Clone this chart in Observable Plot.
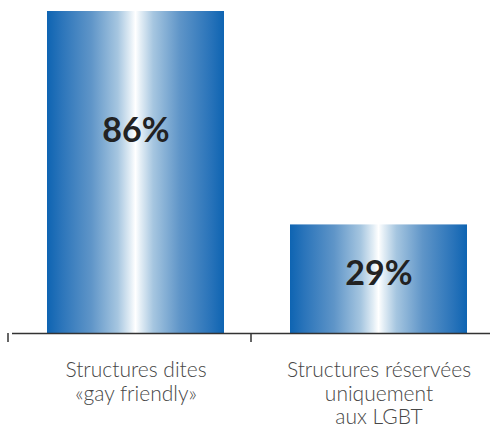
<!DOCTYPE html>
<html>
<head>
<meta charset="utf-8">
<script src="https://cdn.jsdelivr.net/npm/d3@7"></script>
<script src="https://cdn.jsdelivr.net/npm/@observablehq/plot@0.6"></script>
<style>
  html, body { margin: 0; padding: 0; background: #fff; }
  #chart svg { display: block; }
</style>
</head>
<body>
<div id="chart"></div>
<script>
const categories = ["Structures dites\n«gay friendly»", "Structures réservées\nuniquement\naux LGBT"];
const values = [86, 29];
const valueLabels = ["86%", "29%"];

const data = categories.map((c, i) => ({category: c, value: values[i], label: valueLabels[i]}));

const chart = Plot.plot({
  width: 490,
  height: 441,
  marginTop: 11,
  marginBottom: 108,
  marginLeft: 12,
  marginRight: 0,
  style: {background: "#fff", fontFamily: "Lato, sans-serif"},
  x: {domain: categories, range: [46, 468], paddingInner: 0.27, paddingOuter: 0, align: 0.5},
  y: {domain: [0, 86], axis: null},
  marks: [
    Plot.barY(data, {x: "category", y: "value", fill: "url(#barGrad)"}),
    Plot.text(data, {x: "category", y: d => d.value * (d.value > 50 ? 0.63 : 0.55), text: "label", fontSize: 34, fontWeight: "bold", fill: "#222", fontFamily: "Lato, sans-serif"}),
    Plot.ruleY([0], {stroke: "#333", strokeWidth: 1.5}),
    Plot.ruleX(categories, {x: d => d, y1: 0, y2: -2.4, dx: -128, stroke: "#333", strokeWidth: 1.5}),
    Plot.axisX({tickSize: 0, tickPadding: 27, fontSize: 21, fontWeight: 300, fill: "#474747", lineHeight: 1.12, label: null, fontFamily: "Lato, sans-serif"})
  ]
});

const ns = "http://www.w3.org/2000/svg";
const defs = document.createElementNS(ns, "defs");
const grad = document.createElementNS(ns, "linearGradient");
grad.setAttribute("id", "barGrad");
grad.setAttribute("x1", "0"); grad.setAttribute("x2", "1");
grad.setAttribute("y1", "0"); grad.setAttribute("y2", "0");
const stops = [[0, "#0e64b2"], [0.08, "#2a74ba"], [0.25, "#5f95c8"], [0.4, "#a6c6e0"], [0.47, "#e2edf5"], [0.5, "#ffffff"], [0.53, "#e2edf5"], [0.6, "#a6c6e0"], [0.75, "#5f95c8"], [0.92, "#2a74ba"], [1, "#0e64b2"]];
for (const [o, c] of stops) {
  const s = document.createElementNS(ns, "stop");
  s.setAttribute("offset", o);
  s.setAttribute("stop-color", c);
  grad.appendChild(s);
}
defs.appendChild(grad);
chart.insertBefore(defs, chart.firstChild);
document.getElementById("chart").appendChild(chart);
</script>
</body>
</html>
